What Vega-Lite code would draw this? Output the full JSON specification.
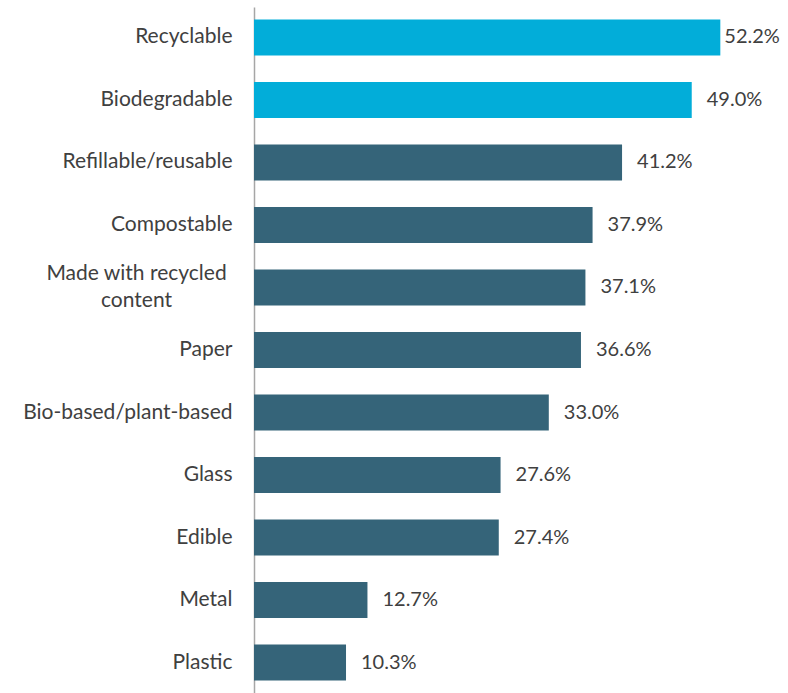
{
  "$schema": "https://vega.github.io/schema/vega-lite/v6.json",
  "width": 536,
  "height": 686,
  "autosize": "none",
  "padding": {"left": 254, "top": 7, "right": 0, "bottom": 0},
  "background": "white",
  "config": {"view": {"stroke": null}, "font": "Lato"},
  "data": {"values": [
    {"item": "Recyclable", "share": 0.522},
    {"item": "Biodegradable", "share": 0.490},
    {"item": "Refillable/reusable", "share": 0.412},
    {"item": "Compostable", "share": 0.379},
    {"item": "Made with recycled content", "share": 0.371},
    {"item": "Paper", "share": 0.366},
    {"item": "Bio-based/plant-based", "share": 0.330},
    {"item": "Glass", "share": 0.276},
    {"item": "Edible", "share": 0.274},
    {"item": "Metal", "share": 0.127},
    {"item": "Plastic", "share": 0.103}
  ]},
  "encoding": {
    "y": {
      "field": "item", "type": "nominal", "sort": null,
      "scale": {"paddingInner": 0.426, "paddingOuter": 0.2},
      "axis": {
        "title": null, "ticks": false,
        "labelPadding": {"condition": {"test": "datum.value == 'Made with recycled content'", "value": 118}, "value": 22},
        "labelAlign": {"condition": {"test": "datum.value == 'Made with recycled content'", "value": "center"}, "value": "right"},
        "labelOffset": {"condition": {"test": "datum.value == 'Made with recycled content'", "value": -13}, "value": 0},
        "labelFontSize": 21, "labelColor": "#404040", "labelLimit": 300,
        "labelLineHeight": 27,
        "labelExpr": "datum.value == 'Made with recycled content' ? ['Made with recycled', 'content'] : datum.value",
        "domainColor": "#A6A6A6", "domainWidth": 1.5
      }
    },
    "x": {
      "field": "share", "type": "quantitative",
      "scale": {"domain": [0, 0.6]},
      "axis": null
    }
  },
  "layer": [
    {
      "mark": {"type": "bar"},
      "encoding": {
        "color": {
          "condition": {"test": "datum.item == 'Recyclable' || datum.item == 'Biodegradable'", "value": "#02ADD9"},
          "value": "#356479"
        }
      }
    },
    {
      "transform": [{"filter": "datum.item != 'Recyclable'"}],
      "mark": {"type": "text", "align": "left", "baseline": "middle", "dx": 15, "fontSize": 20, "color": "#404040"},
      "encoding": {
        "text": {"field": "share", "type": "quantitative", "format": ".1%"}
      }
    },
    {
      "transform": [{"filter": "datum.item == 'Recyclable'"}],
      "mark": {"type": "text", "align": "left", "baseline": "middle", "dx": 4, "fontSize": 20, "color": "#404040"},
      "encoding": {
        "text": {"field": "share", "type": "quantitative", "format": ".1%"}
      }
    }
  ]
}
